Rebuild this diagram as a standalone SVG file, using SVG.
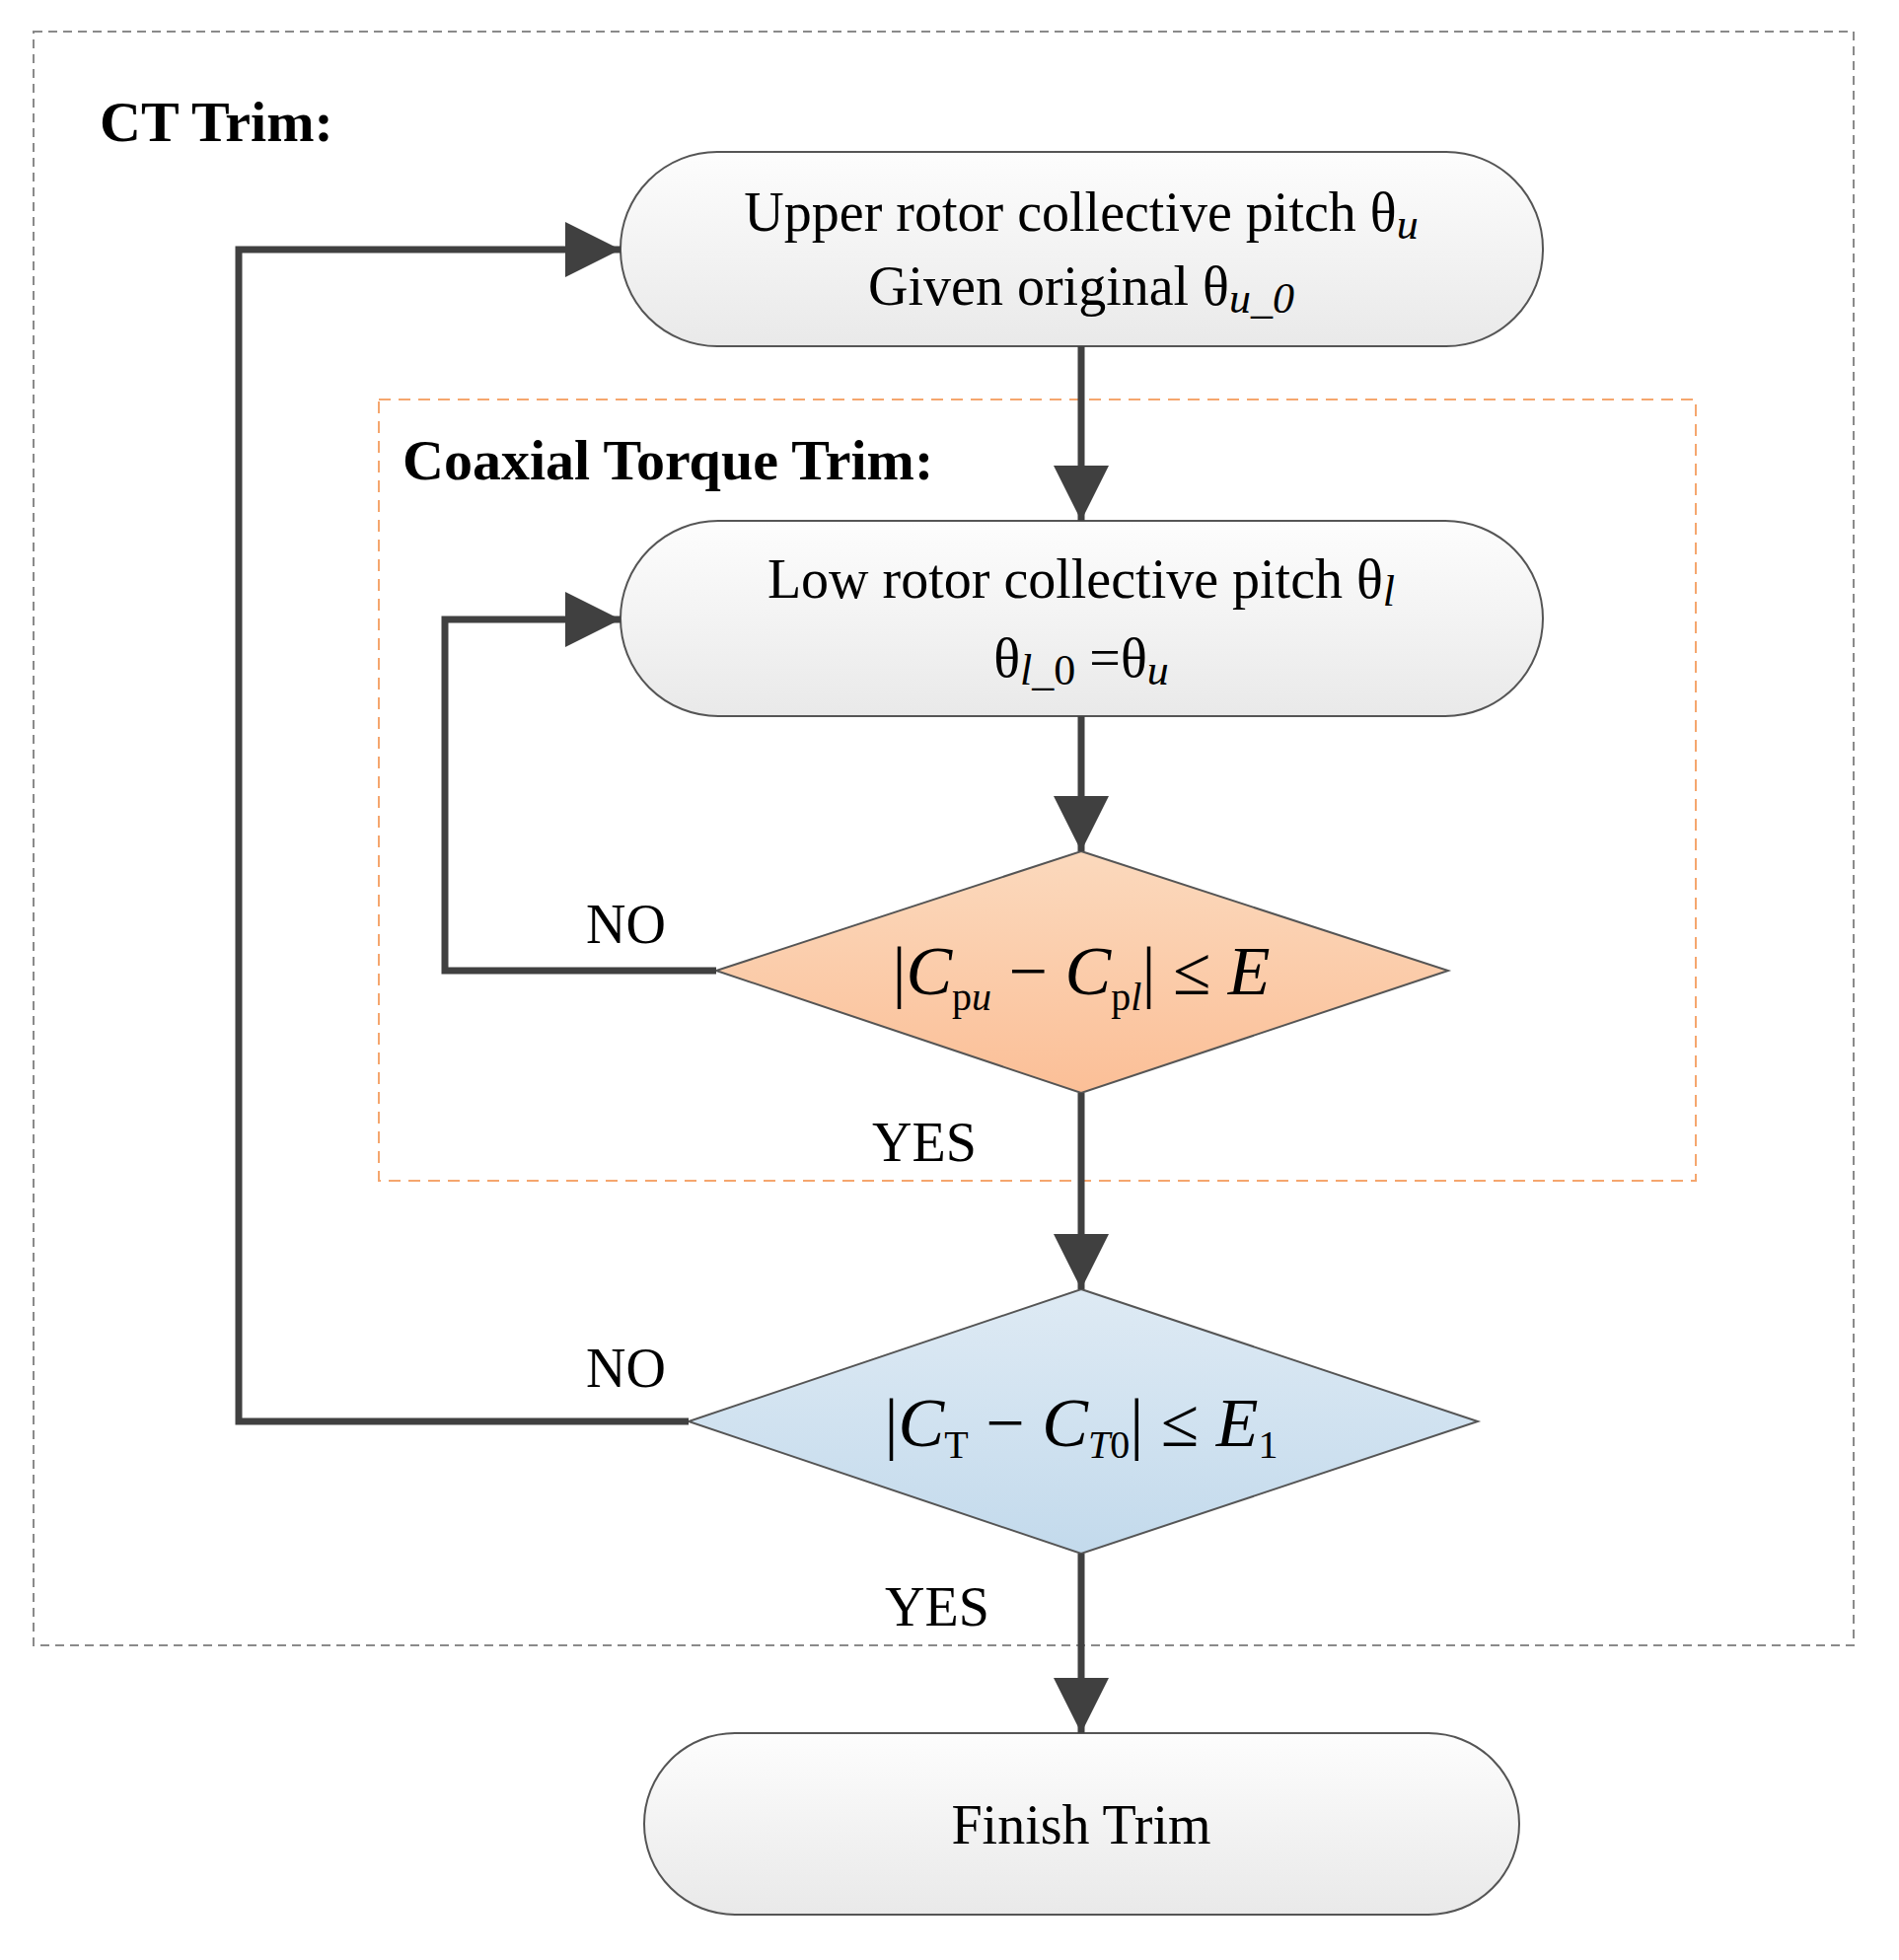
<svg xmlns="http://www.w3.org/2000/svg" width="1925" height="1987" viewBox="0 0 1925 1987">
<style>
text{font-family:"Liberation Serif","Times New Roman",serif;fill:#000}
.t{font-size:56px;text-anchor:middle}
.b{font-size:58px;font-weight:bold}
.lab{font-size:56px}
.f{font-size:70px}
.i{font-style:italic}
.s{font-size:40px}
.term{fill:url(#gt);stroke:#555;stroke-width:2}
.c{fill:none;stroke:#404040;stroke-width:7}
</style>
<defs>
<linearGradient id="gt" x1="0" y1="0" x2="0" y2="1"><stop offset="0" stop-color="#fdfdfd"/><stop offset="1" stop-color="#e9e9e9"/></linearGradient>
<linearGradient id="go" x1="0" y1="0" x2="0" y2="1"><stop offset="0" stop-color="#fbd9bd"/><stop offset="1" stop-color="#fbbf97"/></linearGradient>
<linearGradient id="gb" x1="0" y1="0" x2="0" y2="1"><stop offset="0" stop-color="#deeaf4"/><stop offset="1" stop-color="#c3daec"/></linearGradient>
<marker id="ar" viewBox="0 0 10 10" refX="10" refY="5" markerWidth="8" markerHeight="8" markerUnits="strokeWidth" orient="auto"><path d="M0,0L10,5L0,10z" fill="#404040"/></marker>
</defs>
<rect id="outer" x="34" y="32" width="1845" height="1636" fill="none" stroke="#8a8a8a" stroke-width="2" stroke-dasharray="9,6"/>
<text class="b" x="101" y="143">CT Trim:</text>
<rect id="inner" x="384" y="405" width="1335" height="792" fill="none" stroke="#f5a66e" stroke-width="2" stroke-dasharray="12,8"/>
<text class="b" x="408" y="486">Coaxial Torque Trim:</text>
<g id="upper">
<rect class="term" x="629" y="154" width="935" height="197" rx="98"/>
<text class="t" x="1096" y="234">Upper rotor collective pitch θ<tspan class="i" font-size="44" dy="8">u</tspan></text>
<text class="t" x="1096" y="309">Given original θ<tspan class="i" font-size="44" dy="8">u_0</tspan></text>
</g>
<g id="lower">
<rect class="term" x="629" y="528" width="935" height="198" rx="99"/>
<text class="t" x="1096" y="606">Low rotor collective pitch θ<tspan class="i" font-size="44" dy="8">l</tspan></text>
<text class="t" x="1096" y="686">θ<tspan class="i" font-size="44" dy="8">l</tspan><tspan font-size="44">_0</tspan><tspan dy="-8"> =θ</tspan><tspan class="i" font-size="44" dy="8">u</tspan></text>
</g>
<g id="d1">
<path d="M1096,863L1468,984L1096,1108L726,984Z" fill="url(#go)" stroke="#555" stroke-width="2"/>
<text class="f" x="1096" y="1008" text-anchor="middle">|<tspan class="i">C</tspan><tspan class="s" dy="16">p</tspan><tspan class="s i" font-size="30">u</tspan><tspan dy="-16"> − </tspan><tspan class="i">C</tspan><tspan class="s" dy="16">p</tspan><tspan class="s i" font-size="30">l</tspan><tspan dy="-16">| ≤ </tspan><tspan class="i">E</tspan></text>
</g>
<g id="d2">
<path d="M1096,1307L1498,1441L1096,1575L698,1441Z" fill="url(#gb)" stroke="#555" stroke-width="2"/>
<text class="f" x="1096" y="1466" text-anchor="middle">|<tspan class="i">C</tspan><tspan class="s" dy="12">T</tspan><tspan dy="-12"> − </tspan><tspan class="i">C</tspan><tspan class="s i" dy="12">T</tspan><tspan class="s">0</tspan><tspan dy="-12">| ≤ </tspan><tspan class="i">E</tspan><tspan class="s" dy="12">1</tspan></text>
</g>
<g id="finish">
<rect class="term" x="653" y="1757" width="887" height="184" rx="92"/>
<text class="t" x="1096" y="1869">Finish Trim</text>
</g>
<g id="connectors">
<path class="c" d="M1096,351V528" marker-end="url(#ar)"/>
<path class="c" d="M1096,726V863" marker-end="url(#ar)"/>
<path class="c" d="M1096,1108V1307" marker-end="url(#ar)"/>
<path class="c" d="M1096,1575V1757" marker-end="url(#ar)"/>
<path class="c" d="M726,984H451V628H629" marker-end="url(#ar)"/>
<path class="c" d="M698,1441H242V253H629" marker-end="url(#ar)"/>
</g>
<text class="lab" x="594" y="956">NO</text>
<text class="lab" x="884" y="1177">YES</text>
<text class="lab" x="594" y="1406">NO</text>
<text class="lab" x="897" y="1648">YES</text>
</svg>
